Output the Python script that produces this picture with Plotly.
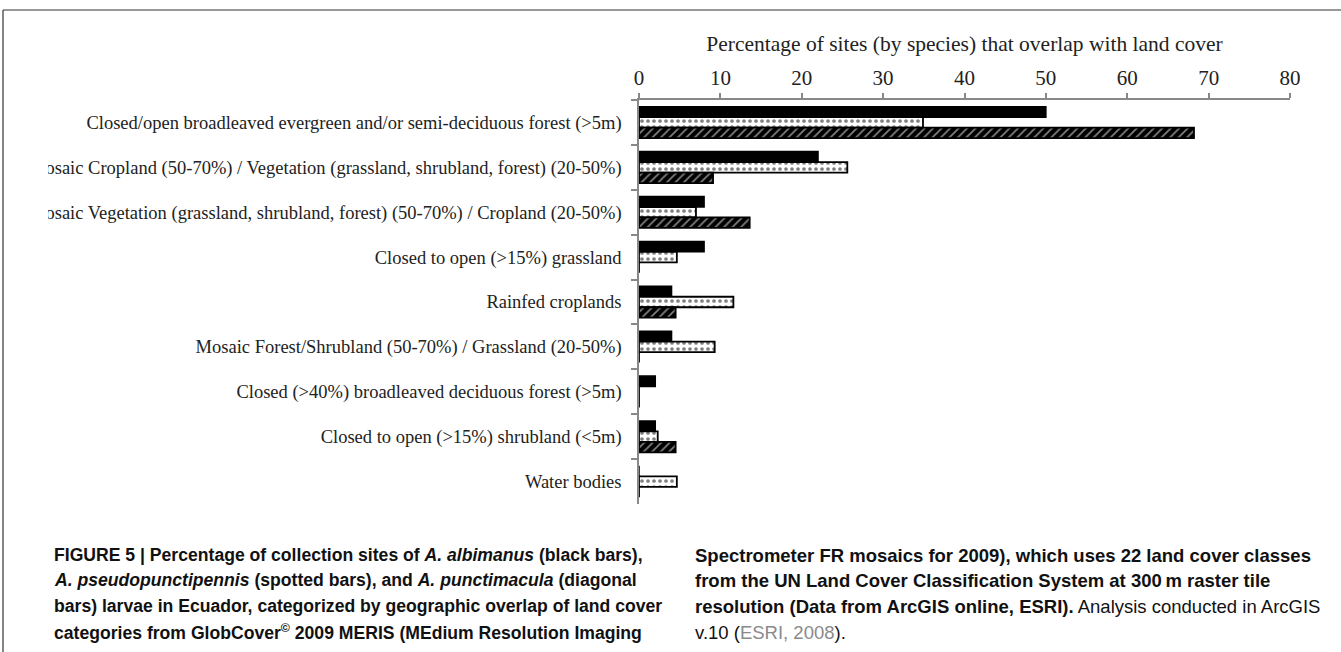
import plotly.graph_objects as go

categories = [
    "Closed/open broadleaved evergreen and/or semi-deciduous forest (>5m)",
    "Mosaic Cropland (50-70%) / Vegetation (grassland, shrubland, forest) (20-50%)",
    "Mosaic Vegetation (grassland, shrubland, forest) (50-70%) / Cropland (20-50%)",
    "Closed to open (>15%) grassland",
    "Rainfed croplands",
    "Mosaic Forest/Shrubland (50-70%) / Grassland (20-50%)",
    "Closed (>40%) broadleaved deciduous forest (>5m)",
    "Closed to open (>15%) shrubland (<5m)",
    "Water bodies",
]
albimanus = [50.0, 22.0, 8.0, 8.0, 4.0, 4.0, 2.0, 2.0, 0.0]
pseudopunctipennis = [34.9, 25.6, 7.0, 4.65, 11.6, 9.3, 0.0, 2.3, 4.65]
punctimacula = [68.2, 9.1, 13.6, 0.0, 4.5, 0.0, 0.0, 4.5, 0.0]
x_ticks = [0, 10, 20, 30, 40, 50, 60, 70, 80]
axis_title = "Percentage of sites (by species) that overlap with land cover"

W, H = 1341, 652
L, R, T, B = 639, 51, 100, 148
pw, ph = W - L - R, H - T - B

def px(xpix):
    return (xpix - L) / pw

def py(ypix):
    return (H - B - ypix) / ph

serif = "Liberation Serif, Times New Roman, serif"
narrow = "Liberation Sans Narrow, Arial Narrow, Liberation Sans, sans-serif"

fig = go.Figure()
fig.add_trace(go.Bar(
    y=categories, x=albimanus, orientation="h", name="A. albimanus",
    marker=dict(color="black", line=dict(color="black", width=1.5)),
))
fig.add_trace(go.Bar(
    y=categories, x=pseudopunctipennis, orientation="h", name="A. pseudopunctipennis",
    marker=dict(color="white", line=dict(color="black", width=1.8),
                pattern=dict(shape=".", fgcolor="black", bgcolor="white", size=6, solidity=0.3)),
))
fig.add_trace(go.Bar(
    y=categories, x=punctimacula, orientation="h", name="A. punctimacula",
    marker=dict(color="black", line=dict(color="black", width=1.8),
                pattern=dict(shape="/", fgcolor="white", bgcolor="black", size=6, solidity=0.3)),
))

fig.update_layout(
    width=W, height=H,
    margin=dict(l=L, r=R, t=T, b=B, autoexpand=False),
    paper_bgcolor="white", plot_bgcolor="white",
    barmode="group", bargap=0.3, bargroupgap=0,
    showlegend=False,
    xaxis=dict(
        side="top", range=[0, 80], tickvals=x_ticks, ticktext=[str(v) for v in x_ticks],
        showgrid=False, zeroline=False, showline=True, linecolor="#888", linewidth=1.5,
        ticks="outside", ticklen=5, tickcolor="#888", tickwidth=1.5,
        tickfont=dict(family=serif, size=21, color="#222"),
        title=dict(text=axis_title, font=dict(family=serif, size=21.5, color="#222"), standoff=8),
    ),
    yaxis=dict(
        autorange="reversed", showgrid=False, zeroline=False,
        showline=True, linecolor="#888", linewidth=1.5,
        ticks="outside", ticklen=6, tickcolor="#888", tickwidth=1.5, tickson="boundaries",
        ticklabelstandoff=12,
        tickfont=dict(family=serif, size=18.5, color="#222"),
    ),
)

shapes = [
    # mask that clips the long labels at the left edge
    dict(type="rect", xref="paper", yref="paper", x0=px(0), x1=px(48), y0=py(505), y1=py(95),
         fillcolor="white", line=dict(width=0), layer="above"),
    # frame
    dict(type="line", xref="paper", yref="paper", x0=px(3), x1=px(W), y0=py(10), y1=py(10),
         line=dict(color="#333", width=1.2), layer="above"),
    dict(type="line", xref="paper", yref="paper", x0=px(3), x1=px(3), y0=py(10), y1=py(H),
         line=dict(color="#333", width=1.2), layer="above"),
]
fig.update_layout(shapes=shapes)

left_lines = [
    "<b>FIGURE 5 | Percentage of collection sites of <i>A. albimanus</i> (black bars),</b>",
    "<b><i>A. pseudopunctipennis</i> (spotted bars), and <i>A. punctimacula</i> (diagonal</b>",
    "<b>bars) larvae in Ecuador, categorized by geographic overlap of land cover</b>",
    "<b>categories from GlobCover<sup>©</sup> 2009 MERIS (MEdium Resolution Imaging</b>",
]
right_lines = [
    "<b>Spectrometer FR mosaics for 2009), which uses 22 land cover classes</b>",
    "<b>from the UN Land Cover Classification System at 300\u2009m raster tile</b>",
    "<b>resolution (Data from ArcGIS online, ESRI).</b> Analysis conducted in ArcGIS",
    "v.10 (<span style='color:#8a8a8a'>ESRI, 2008</span>).",
]
line_y = [555, 580, 606, 632]
for i, t in enumerate(left_lines):
    fig.add_annotation(x=px(52), y=py(line_y[i]), xref="paper", yref="paper",
                       xanchor="left", yanchor="middle", showarrow=False, text=t,
                       font=dict(family=narrow, size=17.6, color="#111"))
for i, t in enumerate(right_lines):
    fig.add_annotation(x=px(693), y=py(line_y[i]), xref="paper", yref="paper",
                       xanchor="left", yanchor="middle", showarrow=False, text=t,
                       font=dict(family=narrow, size=18.5, color="#111"))

fig.write_html("out.html", config={"displayModeBar": False},
               post_script="document.body.style.margin='0';")
